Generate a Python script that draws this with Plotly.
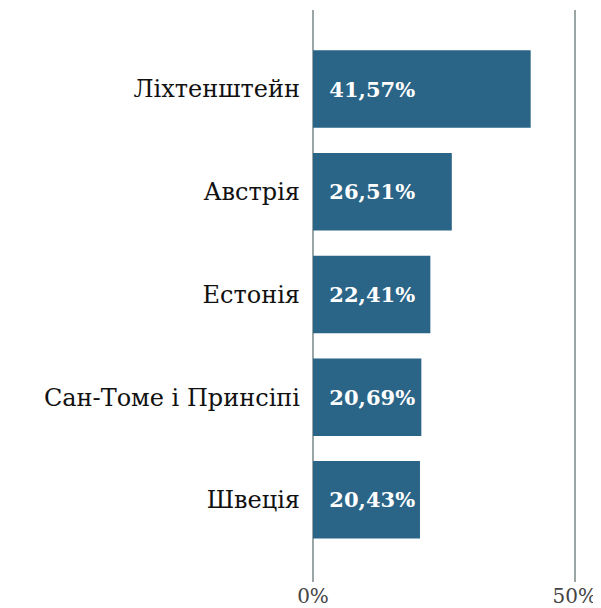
import plotly.graph_objects as go

countries = ["Ліхтенштейн", "Австрія", "Естонія", "Сан-Томе і Принсіпі", "Швеція"]
values = [41.57, 26.51, 22.41, 20.69, 20.43]
labels = ["41,57%", "26,51%", "22,41%", "20,69%", "20,43%"]
tick_vals = [0, 50]
tick_text = ["0%", "50%"]

FONT = "DejaVu Serif"

fig = go.Figure(go.Bar(
    x=values, y=countries, orientation="h",
    marker=dict(color="#2a6587", line=dict(width=0)),
    text=["\u00a0\u00a0<b>" + t + "</b>" for t in labels],
    textposition="inside", insidetextanchor="start",
    textfont=dict(family=FONT, size=21, color="white"),
    textangle=0,
    hoverinfo="skip",
))

# page body has an 8px margin, so the figure is drawn 8px smaller and offset
fig.update_layout(
    width=593, height=600,
    margin=dict(l=305, r=0, t=2, b=23),
    paper_bgcolor="white", plot_bgcolor="white",
    bargap=0.245,
    showlegend=False,
    uniformtext=dict(minsize=21, mode="show"),
)
fig.update_xaxes(
    range=[0, 55], tickvals=tick_vals, ticktext=tick_text,
    showgrid=True, gridcolor="#9aa6a6", gridwidth=2,
    zeroline=True, zerolinecolor="#9aa6a6", zerolinewidth=2,
    showline=False, ticks="",
    tickfont=dict(family=FONT, size=20, color="#444"),
)
fig.update_yaxes(
    autorange=False, range=[4.8, -0.77], type="category",
    categoryorder="array", categoryarray=countries,
    showgrid=False, zeroline=False, showline=False, ticks="",
    ticklabelstandoff=12,
    tickfont=dict(family=FONT, size=24, color="#111"),
)

fig.write_html("out.html")
